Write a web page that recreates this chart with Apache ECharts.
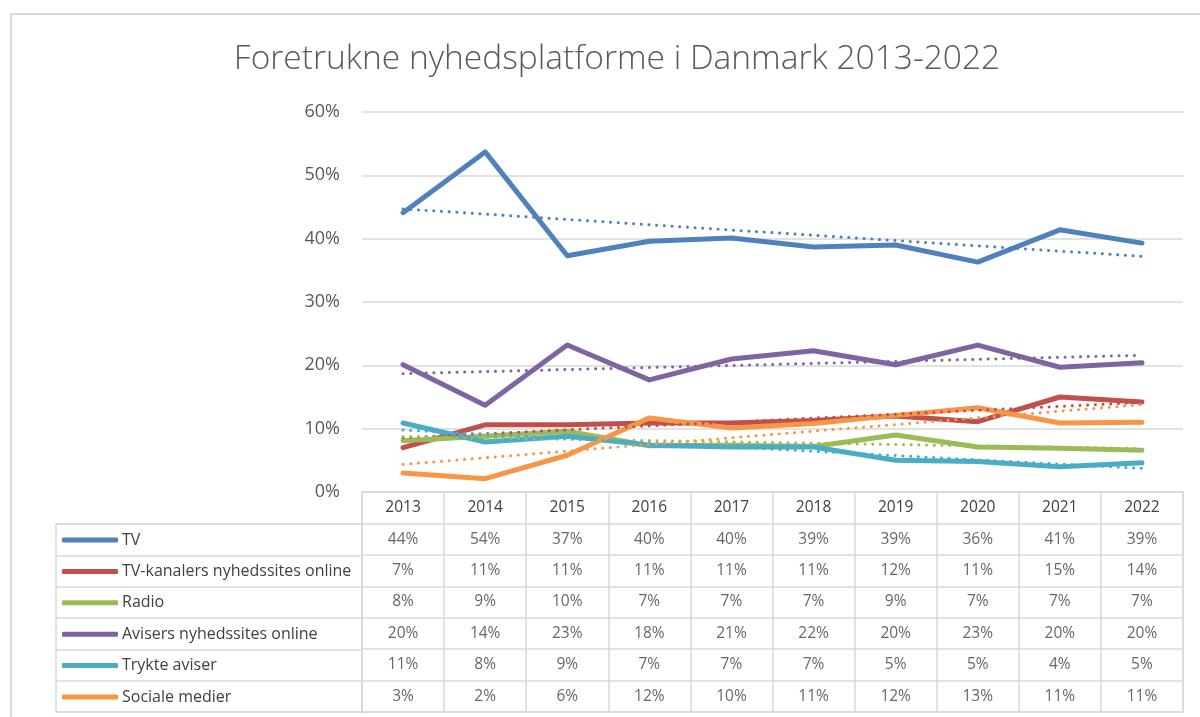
<!DOCTYPE html>
<html>
<head>
<meta charset="utf-8">
<script src="https://cdn.jsdelivr.net/npm/echarts@6/dist/echarts.min.js"></script>
<style>
html,body{margin:0;padding:0;background:#fff;}
#chart{width:1200px;height:717px;}
</style>
</head>
<body>
<div id="chart"></div>
<script>
const titleText = 'Foretrukne nyhedsplatforme i Danmark 2013-2022';
const years = ['2013','2014','2015','2016','2017','2018','2019','2020','2021','2022'];
const yTicks = { min: 0, max: 60, interval: 10 };
const seriesNames = ['TV','TV-kanalers nyhedssites online','Radio','Avisers nyhedssites online','Trykte aviser','Sociale medier'];
const seriesColors = ['#4F81BD','#C0504D','#9BBB59','#8064A2','#4BACC6','#F79646'];
const tv       = [44.1, 53.7, 37.3, 39.6, 40.1, 38.7, 39.0, 36.3, 41.4, 39.3];
const tvOnline = [7.0, 10.6, 10.6, 10.9, 10.9, 11.3, 12.0, 11.1, 15.0, 14.2];
const radio    = [8.1, 8.8, 9.6, 7.3, 7.4, 7.2, 9.0, 7.1, 6.9, 6.6];
const avisOnline = [20.1, 13.7, 23.2, 17.7, 21.0, 22.3, 20.1, 23.2, 19.7, 20.4];
const trykte   = [10.9, 7.9, 8.8, 7.4, 7.1, 7.1, 5.0, 4.8, 4.0, 4.6];
const sociale  = [3.0, 2.1, 5.8, 11.7, 10.1, 10.8, 12.1, 13.3, 10.9, 11.0];
const allValues = [tv, tvOnline, radio, avisOnline, trykte, sociale];

function trend(vals) {
  const n = vals.length;
  const mx = (n - 1) / 2;
  const my = vals.reduce((a, b) => a + b, 0) / n;
  let sxy = 0, sxx = 0;
  vals.forEach((v, i) => { sxy += (i - mx) * (v - my); sxx += (i - mx) * (i - mx); });
  const b = sxy / sxx;
  return vals.map((v, i) => my + b * (i - mx));
}

const FONT = 'Open Sans';
const series = [];
allValues.forEach((vals, k) => {
  series.push({
    name: seriesNames[k], type: 'line', data: vals,
    xAxisIndex: 0, yAxisIndex: 0,
    showSymbol: false, symbol: 'none',
    lineStyle: { width: 5, color: seriesColors[k], join: 'round', cap: 'round' },
    itemStyle: { color: seriesColors[k] },
    z: 3, silent: true, animation: false
  });
});
allValues.forEach((vals, k) => {
  series.push({
    name: seriesNames[k] + ' trend', type: 'line', data: trend(vals),
    xAxisIndex: 0, yAxisIndex: 0,
    showSymbol: false, symbol: 'none',
    lineStyle: { width: 3, color: seriesColors[k], type: [0.1, 7.6], cap: 'round' },
    z: 4, silent: true, animation: false
  });
});
// table cells
allValues.forEach((vals, k) => {
  series.push({
    name: seriesNames[k] + ' table', type: 'scatter',
    xAxisIndex: 1, yAxisIndex: 1,
    symbolSize: 0,
    data: vals.map((v, i) => [i, k + 1.5, v]),
    label: {
      show: true, position: 'inside', color: '#404040', fontFamily: FONT, fontSize: 15.5,
      formatter: p => Math.round(p.data[2]) + '%'
    },
    silent: true, animation: false
  });
});

const chart = echarts.init(document.getElementById('chart'), null, { renderer: 'canvas' });
chart.setOption({
  backgroundColor: '#fff',
  animation: false,
  title: {
    text: titleText, left: 612, top: 37, textAlign: 'center',
    textStyle: { fontFamily: FONT, fontSize: 33.5, fontWeight: 300, color: '#595959' }
  },
  legend: {
    data: seriesNames, orient: 'vertical', left: 62, top: 530, bottom: 0, padding: 0,
    icon: 'roundRect', itemWidth: 56, itemHeight: 5, itemGap: 11.4,
    selectedMode: false,
    textStyle: { fontFamily: FONT, fontSize: 16, color: '#404040', lineHeight: 20, padding: [0,0,0,-1] }
  },
  grid: [
    { left: 362, right: 17, top: 112, bottom: 225 },
    { left: 362, right: 17, top: 492, bottom: 5, show: true, borderColor: '#d9d9d9', borderWidth: 1.5 },
    { left: 56, width: 306, top: 524, bottom: 5, show: true, borderColor: '#d9d9d9', borderWidth: 1.5 }
  ],
  xAxis: [
    { type: 'category', data: years, gridIndex: 0, boundaryGap: true,
      axisLine: { show: true, lineStyle: { color: '#d9d9d9', width: 1.5 } },
      axisTick: { show: false },
      axisLabel: { margin: 8, fontFamily: FONT, fontSize: 15.5, color: '#404040' },
      splitLine: { show: false } },
    { type: 'category', data: years, gridIndex: 1, boundaryGap: true,
      axisLine: { show: false }, axisTick: { show: false }, axisLabel: { show: false },
      splitLine: { show: true, lineStyle: { color: '#d9d9d9', width: 1.5 } } },
    { type: 'value', gridIndex: 2, min: 0, max: 1, show: false }
  ],
  yAxis: [
    { type: 'value', gridIndex: 0, min: yTicks.min, max: yTicks.max, interval: yTicks.interval,
      axisLine: { show: false }, axisTick: { show: false },
      axisLabel: { formatter: '{value}%', margin: 22, fontFamily: FONT, fontSize: 18, color: '#595959' },
      splitLine: { show: true, lineStyle: { color: '#d9d9d9', width: 1.5 } } },
    { type: 'value', gridIndex: 1, min: 0, max: 7, interval: 1, inverse: true,
      axisLine: { show: false }, axisTick: { show: false }, axisLabel: { show: false },
      splitLine: { show: true, lineStyle: { color: '#d9d9d9', width: 1.5 } } },
    { type: 'value', gridIndex: 2, min: 0, max: 6, interval: 1, inverse: true,
      axisLine: { show: false }, axisTick: { show: false }, axisLabel: { show: false },
      splitLine: { show: true, lineStyle: { color: '#d9d9d9', width: 1.5 } } }
  ],
  graphic: [
    { type: 'rect', shape: { x: 11, y: 14, width: 1200, height: 720 },
      style: { fill: 'none', stroke: '#d9d9d9', lineWidth: 2 }, silent: true }
  ],
  series: series
});
</script>
</body>
</html>
